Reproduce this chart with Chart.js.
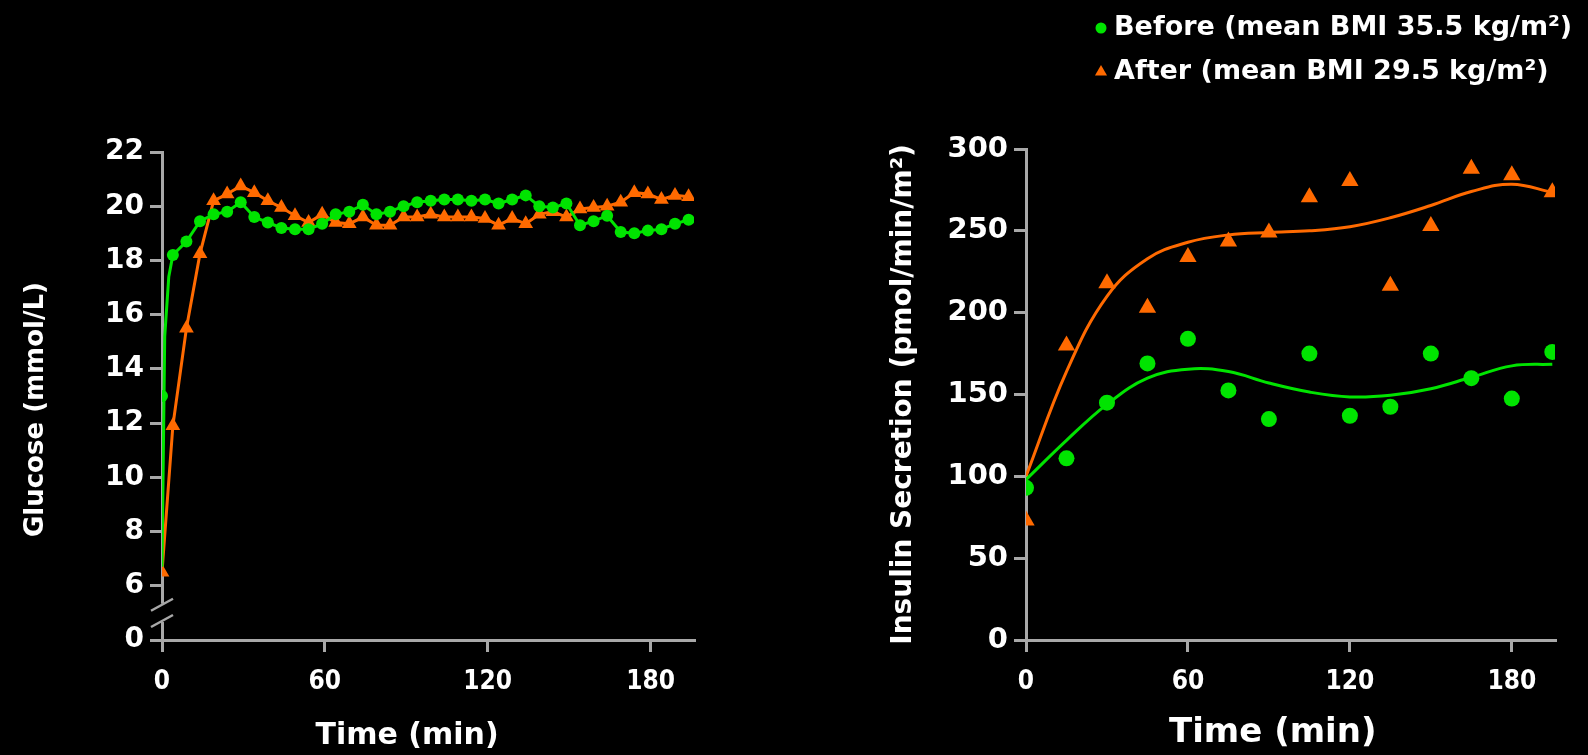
<!DOCTYPE html>
<html>
<head>
<meta charset="utf-8">
<title>Glucose and insulin secretion before and after weight loss</title>
<script src="https://cdn.jsdelivr.net/npm/chart.js@4.4.0/dist/chart.umd.min.js"></script>
<style>
  html, body { margin: 0; padding: 0; background: #000; }
  body { width: 1588px; height: 755px; position: relative; overflow: hidden; }
  canvas { position: absolute; top: 0; }
  #glucose { left: 0; }
  #insulin { left: 860px; }
</style>
</head>
<body>
<canvas id="glucose" width="720" height="755"></canvas>
<canvas id="insulin" width="728" height="755"></canvas>
<script>
// ---- values ----
const seriesLabels = ["Before (mean BMI 35.5 kg/m²)", "After (mean BMI 29.5 kg/m²)"];
const timeTicks = [0, 60, 120, 180];

// left panel: glucose (mmol/L), one reading about every 5 min
const gluTime = [0, 4, 9, 14, 19, 24, 29, 34, 39, 44, 49, 54, 59, 64, 69, 74, 79, 84, 89, 94,
  99, 104, 109, 114, 119, 124, 129, 134, 139, 144, 149, 154, 159, 164, 169, 174, 179, 184, 189, 194];
const gluBefore = [13.0, 18.2, 18.7, 19.45, 19.7, 19.8, 20.15, 19.6, 19.4, 19.2, 19.15, 19.15, 19.35, 19.7, 19.8, 20.05, 19.7, 19.8, 20.0, 20.15,
  20.2, 20.25, 20.25, 20.2, 20.25, 20.1, 20.25, 20.4, 20.0, 19.95, 20.1, 19.3, 19.45, 19.65, 19.05, 19.0, 19.1, 19.15, 19.35, 19.5];
const gluAfter = [6.5, 11.9, 15.5, 18.25, 20.2, 20.45, 20.75, 20.5, 20.2, 19.95, 19.65, 19.4, 19.7, 19.4, 19.35, 19.6, 19.3, 19.3, 19.6, 19.6,
  19.7, 19.6, 19.6, 19.6, 19.55, 19.3, 19.55, 19.35, 19.7, 19.8, 19.6, 19.9, 19.95, 20.0, 20.15, 20.5, 20.45, 20.25, 20.4, 20.35];
// the green trace starts low on the axis and bends up before the 4-min reading
const gluCurveHeadTime = [0, 1, 2.5];
const gluCurveHeadValue = [6.7, 15.2, 17.4];
const gluTicks = [4, 6, 8, 10, 12, 14, 16, 18, 20, 22];
const gluBreakValue = 4; // axis is broken: this tick is labelled "0"

// right panel: insulin secretion (pmol/min/m²), every 15 min
const insTime = [0, 15, 30, 45, 60, 75, 90, 105, 120, 135, 150, 165, 180, 195];
const insBefore = [93, 111, 145, 169, 184, 152.5, 135, 175, 137, 142.5, 175, 160, 147.5, 176];
const insAfter = [73, 180, 218, 203, 234, 243.5, 249, 270.5, 280.5, 216.5, 253, 288, 284, 273.5];
// fitted curves as drawn
const fitTime = [0, 15, 30, 45, 60, 75, 90, 105, 120, 135, 150, 165, 180, 195];
const fitBefore = [98, 122, 144, 160, 165.5, 164, 157, 151.5, 148.5, 149.5, 153.5, 160.5, 167.5, 168.5];
const fitAfter = [100, 164, 210, 233, 243, 247.5, 249, 250, 252.5, 258, 265.5, 274, 278.5, 273.5];
const insTicks = [0, 50, 100, 150, 200, 250, 300];

const GREEN = "#00e400";
const ORANGE = "#ff6a00";
const AXIS = "#a8a8a8";
const FONT = "'DejaVu Sans', 'Liberation Sans', sans-serif";
const NARROW = "'DejaVu Sans Condensed', 'DejaVu Sans', sans-serif";

Chart.defaults.font.family = FONT;
Chart.defaults.font.weight = "bold";
Chart.defaults.color = "#ffffff";
Chart.defaults.animation = false;

const pts = (xs, ys) => xs.map((x, i) => ({ x: x, y: ys[i] }));

function xAxis(titleSize, pad) {
  return {
    type: "linear", min: 0, max: 196,
    afterBuildTicks: s => { s.ticks = timeTicks.map(v => ({ value: v })); },
    afterFit: s => { s.height = 115; },
    border: { color: AXIS, width: 3 },
    grid: { drawOnChartArea: false, color: AXIS, lineWidth: 3, tickLength: 12 },
    ticks: { color: "#fff", font: { family: NARROW, size: 26, weight: "bold" }, padding: 15, maxRotation: 0 },
    title: { display: true, text: "Time (min)" + pad, color: "#fff",
      font: { size: titleSize, weight: "bold" }, padding: { top: 0, bottom: 1 } }
  };
}

function yAxis(min, max, ticks, width, tickSize, title, titleSize, fmt) {
  return {
    min: min, max: max,
    afterBuildTicks: s => { s.ticks = ticks.map(v => ({ value: v })); },
    afterFit: s => { s.width = width; },
    border: { color: AXIS, width: 3 },
    grid: { drawOnChartArea: false, color: AXIS, lineWidth: 3, tickLength: 12 },
    ticks: { color: "#fff", font: { size: tickSize, weight: "bold" }, padding: 6, callback: fmt },
    title: { display: true, text: title, color: "#fff",
      font: { size: titleSize, weight: "bold" }, padding: { top: 4, bottom: 4 } }
  };
}

// === Glucose panel ===
const axisBreak = {
  id: "axisBreak",
  afterDraw(chart) {
    const ctx = chart.ctx;
    const x = chart.scales.x.left;
    const ys = chart.scales.y;
    const y1 = ys.getPixelForValue(gluBreakValue + 1.3);
    const y2 = ys.getPixelForValue(gluBreakValue + 0.7);
    ctx.save();
    ctx.fillStyle = "#000";
    ctx.fillRect(x - 3, y1 - 1, 6, y2 - y1 + 2);
    ctx.strokeStyle = AXIS;
    ctx.lineWidth = 2.5;
    [y1, y2].forEach(y => {
      ctx.beginPath();
      ctx.moveTo(x - 11, y + 6);
      ctx.lineTo(x + 11, y - 6);
      ctx.stroke();
    });
    ctx.restore();
  }
};

new Chart(document.getElementById("glucose"), {
  type: "scatter",
  data: {
    datasets: [
      {
        label: seriesLabels[0],
        data: pts(gluTime, gluBefore),
        showLine: false,
        pointStyle: "circle", pointRadius: 6, pointBorderWidth: 0,
        backgroundColor: GREEN, borderColor: GREEN
      },
      {
        label: "before trace",
        data: pts(gluCurveHeadTime, gluCurveHeadValue).concat(pts(gluTime.slice(1), gluBefore.slice(1))),
        showLine: true, pointRadius: 0, borderWidth: 3, tension: 0,
        borderColor: GREEN, backgroundColor: GREEN
      },
      {
        label: seriesLabels[1],
        data: pts(gluTime, gluAfter),
        showLine: true, borderWidth: 3, tension: 0,
        pointStyle: "triangle", pointRadius: 8.5, pointBorderWidth: 0,
        backgroundColor: ORANGE, borderColor: ORANGE
      }
    ]
  },
  options: {
    responsive: false,
    layout: { padding: { left: 17, top: 152, right: 26, bottom: 0 } },
    plugins: { legend: { display: false }, tooltip: { enabled: false } },
    scales: {
      x: xAxis(30, "    "),
      y: yAxis(4, 22, gluTicks, 145, 28, "Glucose (mmol/L)   ", 26,
        v => (v === gluBreakValue ? "0" : v))
    }
  },
  plugins: [axisBreak]
});

// === Insulin panel ===
const sideLegend = {
  id: "sideLegend",
  afterDraw(chart) {
    const ctx = chart.ctx;
    const items = [
      { ds: chart.data.datasets[0], y: 28, r: 5.5 },
      { ds: chart.data.datasets[1], y: 72, r: 7 }
    ];
    ctx.save();
    ctx.font = "bold 27px " + FONT;
    ctx.textBaseline = "middle";
    items.forEach(it => {
      ctx.fillStyle = it.ds.backgroundColor;
      ctx.strokeStyle = it.ds.backgroundColor;
      Chart.helpers.drawPoint(ctx, { pointStyle: it.ds.pointStyle, radius: it.r, rotation: 0, borderWidth: 0 }, 241, it.y);
      ctx.fillStyle = "#fff";
      ctx.fillText(it.ds.label, 254, it.y);
    });
    ctx.restore();
  }
};

new Chart(document.getElementById("insulin"), {
  type: "scatter",
  data: {
    datasets: [
      {
        label: seriesLabels[0],
        data: pts(insTime, insBefore),
        showLine: false,
        pointStyle: "circle", pointRadius: 8, pointBorderWidth: 0,
        backgroundColor: GREEN, borderColor: GREEN
      },
      {
        label: seriesLabels[1],
        data: pts(insTime, insAfter),
        showLine: false,
        pointStyle: "triangle", pointRadius: 10, pointBorderWidth: 0,
        backgroundColor: ORANGE, borderColor: ORANGE
      },
      {
        label: "before fit",
        data: pts(fitTime, fitBefore),
        showLine: true, pointRadius: 0, borderWidth: 3, tension: 0.4,
        borderColor: GREEN
      },
      {
        label: "after fit",
        data: pts(fitTime, fitAfter),
        showLine: true, pointRadius: 0, borderWidth: 3, tension: 0.4,
        borderColor: ORANGE
      }
    ]
  },
  options: {
    responsive: false,
    layout: { padding: { left: 23, top: 149, right: 33, bottom: 0 } },
    plugins: { legend: { display: false }, tooltip: { enabled: false } },
    scales: {
      x: xAxis(34, "   "),
      y: yAxis(0, 300, insTicks, 143, 29, "Insulin Secretion (pmol/min/m²)", 28, v => v)
    }
  },
  plugins: [sideLegend]
});
</script>
</body>
</html>
